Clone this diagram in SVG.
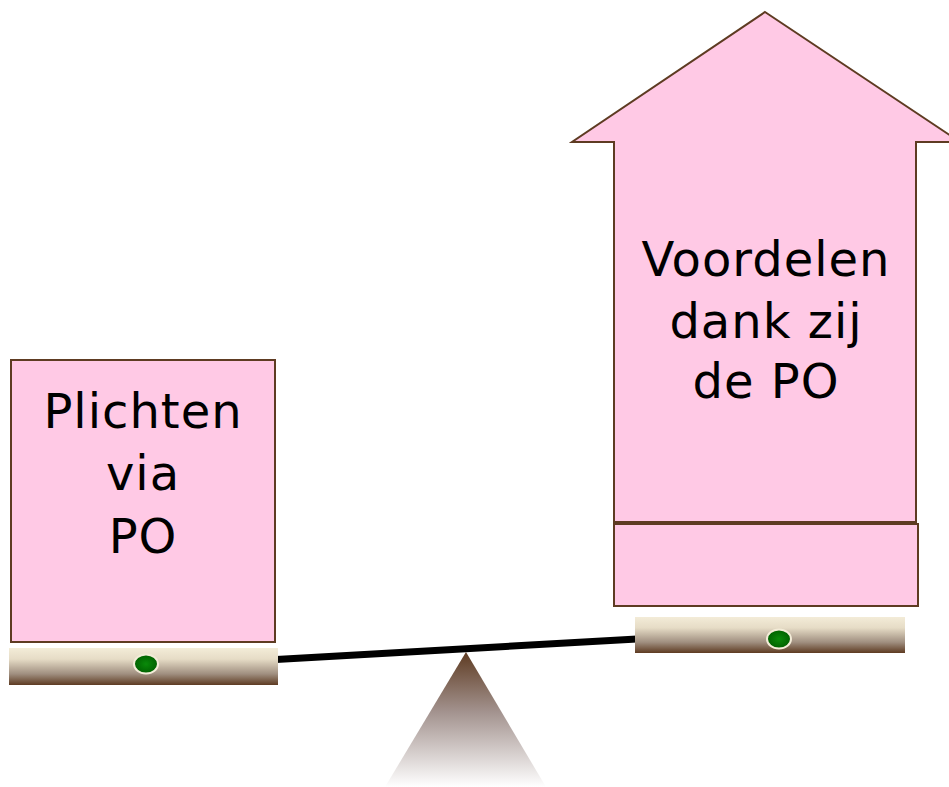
<svg xmlns="http://www.w3.org/2000/svg" width="949" height="787" viewBox="0 0 949 787">
<defs>
<linearGradient id="plank" x1="0" y1="0" x2="0" y2="1">
<stop offset="0" stop-color="#f3ecd8"/>
<stop offset="0.3" stop-color="#e6dcc6"/>
<stop offset="0.7" stop-color="#a08f80"/>
<stop offset="1" stop-color="#5e3b22"/>
</linearGradient>
<linearGradient id="fulcrum" x1="0" y1="0" x2="0" y2="1">
<stop offset="0" stop-color="#5e3b22"/>
<stop offset="0.45" stop-color="#a49490"/>
<stop offset="1" stop-color="#ffffff"/>
</linearGradient>
<radialGradient id="dot" cx="0.5" cy="0.5" r="0.5">
<stop offset="0" stop-color="#0a8a0a"/>
<stop offset="1" stop-color="#006000"/>
</radialGradient>
</defs>
<style>
.box{fill:#ffc9e5;stroke:#5e3b22;stroke-width:2}
.lbl{font-family:"DejaVu Sans","Verdana",sans-serif;font-size:48px;fill:#000;text-anchor:middle;letter-spacing:1px}
.dot{fill:url(#dot);stroke:#f3ecd8;stroke-width:2}
</style>
<g id="fulcrum-shape">
<polygon points="466,652 546,787 385,787" fill="url(#fulcrum)"/>
</g>
<g id="connectors">
<line x1="276" y1="659.5" x2="637" y2="639" stroke="#000" stroke-width="7"/>
</g>
<g id="left-plank">
<rect x="9" y="648" width="269" height="37" fill="url(#plank)"/>
<ellipse class="dot" cx="146" cy="664" rx="12" ry="9.5"/>
</g>
<g id="right-plank">
<rect x="635" y="617" width="270" height="36" fill="url(#plank)"/>
<ellipse class="dot" cx="779" cy="639" rx="12" ry="9.5"/>
</g>
<g id="plichten">
<rect class="box" x="11" y="360" width="264" height="282"/>
<text class="lbl" x="143" y="428">Plichten</text>
<text class="lbl" x="143" y="490">via</text>
<text class="lbl" x="143" y="553">PO</text>
</g>
<g id="voordelen">
<polygon class="box" points="765,12 960,142 916,142 916,522 614,522 614,142 572,142"/>
<text class="lbl" x="766" y="276">Voordelen</text>
<text class="lbl" x="766" y="338">dank zij</text>
<text class="lbl" x="766" y="398">de PO</text>
</g>
<g id="base-box">
<rect class="box" x="614" y="524" width="304" height="82"/>
</g>
</svg>
